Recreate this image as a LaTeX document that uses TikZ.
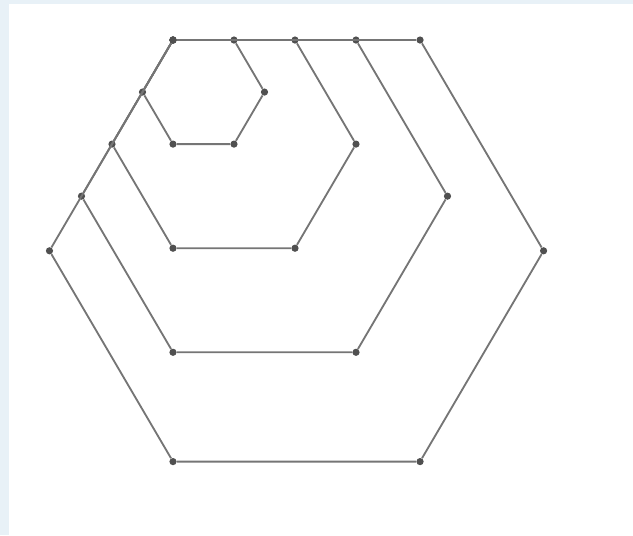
\documentclass[tikz,border=0pt]{standalone}
\usepackage{xcolor}
\usepackage{tikz}

\definecolor{linegray}{HTML}{757575}
\definecolor{dotgray}{HTML}{505050}
\definecolor{paleblue}{HTML}{E8F1F7}

\begin{document}
\begin{tikzpicture}[
    x=1.525cm, y=1.5025cm,
    vdot/.style={circle, fill=dotgray, inner sep=0pt, minimum size=0.18cm},
    edge/.style={draw=linegray, line width=1.3pt}
]
% page and its pale border
\fill[paleblue] (-2.836,0.666) rectangle (7.541,-8.236);
\fill[white] (-2.689,0.599) rectangle (7.541,-8.236);
\useasboundingbox (-2.836,0.666) rectangle (7.541,-8.236);

% nested hexagons, all sharing the top-left corner
\foreach \k/\s in {1/1, 2/2, 3/3, 4/4.05} {
    \node[vdot] (tl\k) at (0,0) {};
    \node[vdot] (tr\k) at (\s,0) {};
    \node[vdot] (rt\k) at ({1.5*\s},{-0.866*\s}) {};
    \node[vdot] (br\k) at (\s,{-1.732*\s}) {};
    \node[vdot] (bl\k) at (0,{-1.732*\s}) {};
    \node[vdot] (lf\k) at ({-0.5*\s},{-0.866*\s}) {};
    \draw[edge] (tl\k) -- (tr\k) -- (rt\k) -- (br\k) -- (bl\k) -- (lf\k) -- (tl\k);
}
\end{tikzpicture}
\end{document}
